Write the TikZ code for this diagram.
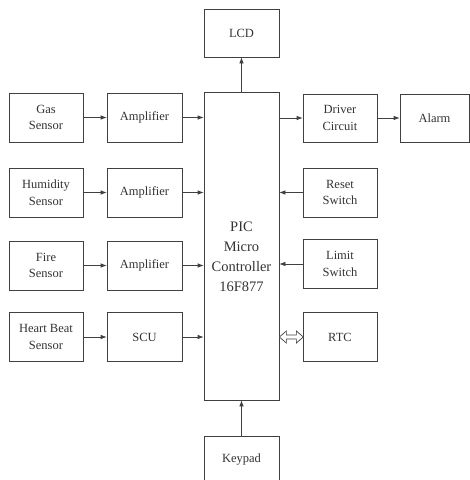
\documentclass[tikz,border=0pt]{standalone}
\usepackage{fontspec}
\setmainfont{Liberation Serif}
\usetikzlibrary{arrows.meta}
\tikzset{%
  block/.style={draw=black!75,line width=0.7pt,inner sep=0pt,align=center,
    text=black!80,minimum width=#1,minimum height=49pt,
    font=\fontsize{12.5}{16.5}\selectfont},
  block/.default=75pt,
  link/.style={draw=black!75,line width=0.7pt,-{Latex[length=6pt,width=4.5pt]}},
  both/.style={draw=black!75,line width=0.7pt,line join=miter,fill=white}
}
\begin{document}
\begin{tikzpicture}[x=1pt,y=-1pt]

    % frame of the page
    \useasboundingbox (0,0) rectangle (470,480);

    % sensors on the left
    \node[block=74pt] (gas) at (46,117.5) {Gas\\Sensor};
    \node[block=74pt] (hum) at (46,192.5) {Humidity\\Sensor};
    \node[block=74pt] (fire) at (46,265.5) {Fire\\Sensor};
    \node[block=74pt] (heart) at (46,337) {Heart Beat\\Sensor};

    % signal conditioning
    \node[block] (amp1) at (144.5,117.5) {Amplifier};
    \node[block] (amp2) at (144.5,192.5) {Amplifier};
    \node[block] (amp3) at (144.5,265.5) {Amplifier};
    \node[block] (scu) at (144.5,337) {SCU};

    % the controller
    \node[block,minimum height=308pt] (mcu) at (241.5,246) {};
    \node[text=black!80,align=center,font=\fontsize{14.5}{20}\selectfont]
        (mcutext) at (241.5,257) {PIC\\Micro\\Controller\\16F877};
    \node[block,minimum height=48pt] (lcd) at (241.5,33) {LCD};
    \node[block,minimum height=48pt] (keypad) at (241.5,460) {Keypad};

    % right hand side
    \node[block=74pt,minimum height=48pt] (driver) at (340,118) {Driver\\Circuit};
    \node[block=69pt,minimum height=48pt] (alarm) at (434.5,118) {Alarm};
    \node[block=74pt] (reset) at (340,192.5) {Reset\\Switch};
    \node[block=74pt] (limit) at (340,264) {Limit\\Switch};
    \node[block=74pt] (rtc) at (340,337) {RTC};

    % connections
    \draw[link] (gas) -- (amp1);
    \draw[link] (hum) -- (amp2);
    \draw[link] (fire) -- (amp3);
    \draw[link] (heart) -- (scu);
    \draw[link] (amp1.east) -- (amp1.east -| mcu.west);
    \draw[link] (amp2.east) -- (amp2.east -| mcu.west);
    \draw[link] (amp3.east) -- (amp3.east -| mcu.west);
    \draw[link] (scu.east) -- (scu.east -| mcu.west);
    \draw[link] (mcu) -- (lcd);
    \draw[link] (keypad) -- (mcu);
    \draw[link] (driver.west -| mcu.east) -- (driver.west);
    \draw[link] (driver) -- (alarm);
    \draw[link] (reset.west) -- (reset.west -| mcu.east);
    \draw[link] (limit.west) -- (limit.west -| mcu.east);

    % hollow two way arrow to the clock
    \draw[both,shift={(rtc.west -| mcu.east)}] (0,0) -- (7,-6) -- (7,-2)
        -- (17,-2) -- (17,-6) -- (24,0) -- (17,6) -- (17,2) -- (7,2)
        -- (7,6) -- cycle;

\end{tikzpicture}
\end{document}
